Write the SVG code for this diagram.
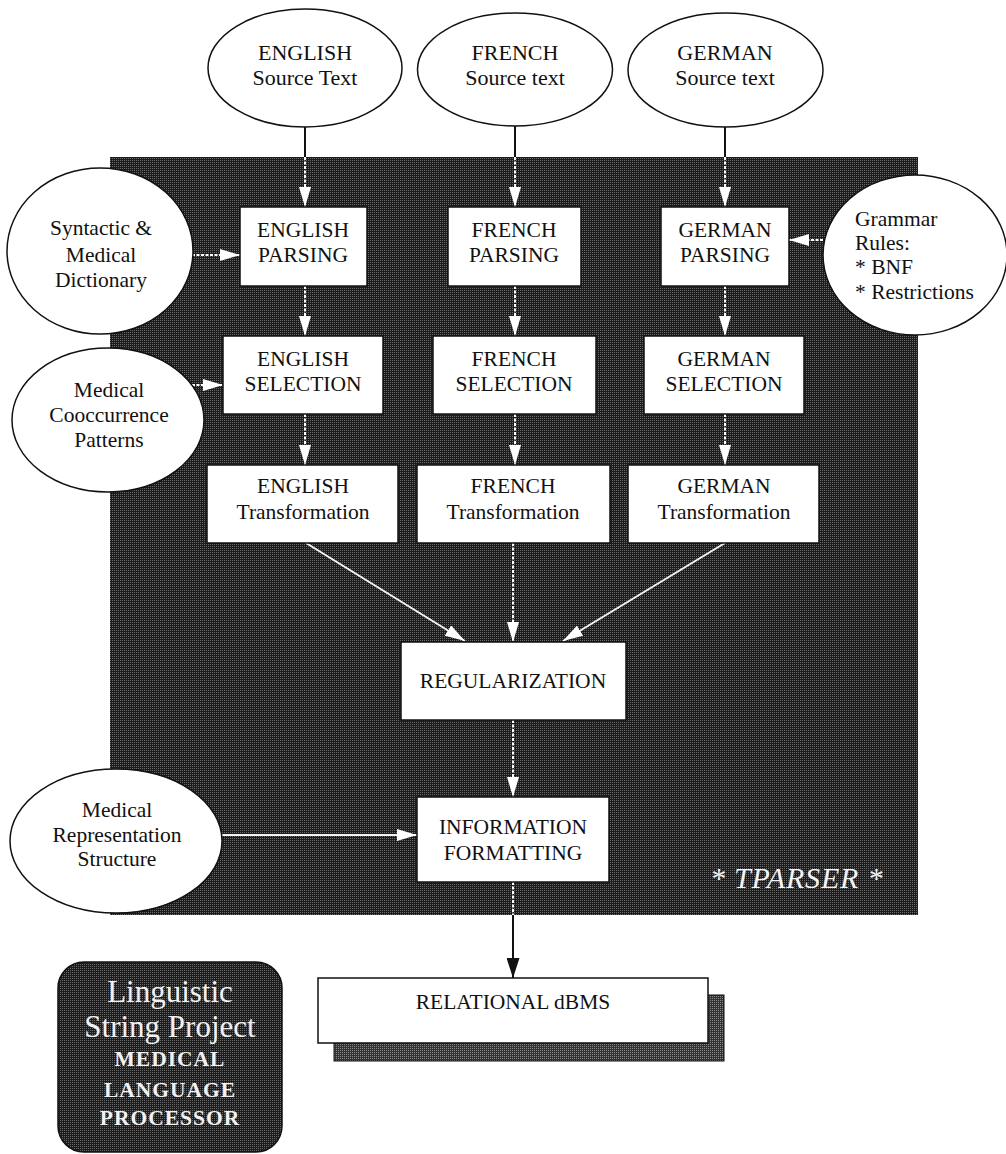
<svg xmlns="http://www.w3.org/2000/svg" width="1006" height="1154" viewBox="0 0 1006 1154">
<style>
text{font-family:"Liberation Serif","Times New Roman",serif;fill:#111;font-size:21.5px;text-anchor:middle}
.n{fill:#fff;stroke:#111;stroke-width:1.5}
.e{fill:#fff;stroke:#111;stroke-width:1.5}
.wd{stroke:#fff;stroke-width:2;stroke-dasharray:3 1.5;fill:none}
.ws{stroke:#f4f4f4;stroke-width:2;fill:none}
.bk{stroke:#111;stroke-width:2;fill:none}
.lsp{fill:#f2f2f2;font-size:31px}
.lspb{fill:#f2f2f2;font-size:21.5px;font-weight:bold;letter-spacing:1px}
.tp{fill:#f4f4f4;font-size:30px;font-style:italic;text-anchor:start;letter-spacing:0.8px}
.src{font-size:22px}
</style>
<defs>
<pattern id="dith" width="2" height="2" patternUnits="userSpaceOnUse">
<rect width="2" height="2" fill="#1c1c1c"/>
<rect x="0" y="0" width="1" height="1" fill="#6a6a6a"/>
</pattern>
<pattern id="dith2" width="2" height="2" patternUnits="userSpaceOnUse">
<rect width="2" height="2" fill="#333"/>
<rect x="0" y="0" width="1" height="1" fill="#8a8a8a"/>
</pattern>
<marker id="wa" viewBox="0 0 20 12" refX="20" refY="6" markerWidth="20" markerHeight="12" markerUnits="userSpaceOnUse" orient="auto">
<path d="M0,0 L20,6 L0,12 z" fill="#fff"/>
</marker>
<marker id="ba" viewBox="0 0 20 13" refX="20" refY="6.5" markerWidth="20" markerHeight="13" markerUnits="userSpaceOnUse" orient="auto">
<path d="M0,0 L20,6.5 L0,13 z" fill="#111"/>
</marker>
</defs>

<g id="tparser-panel">
<rect x="110" y="157" width="808" height="758" fill="url(#dith)"/>
<text class="tp" x="710" y="888">* TPARSER *</text>
</g>

<g id="connectors">
<line class="bk" x1="305" y1="127" x2="305" y2="157"/>
<line class="wd" x1="305" y1="157" x2="305" y2="207" marker-end="url(#wa)"/>
<line class="bk" x1="515" y1="126" x2="515" y2="157"/>
<line class="wd" x1="515" y1="157" x2="515" y2="207" marker-end="url(#wa)"/>
<line class="bk" x1="725" y1="127" x2="725" y2="157"/>
<line class="wd" x1="725" y1="157" x2="725" y2="207" marker-end="url(#wa)"/>
<line class="wd" x1="305" y1="286" x2="305" y2="336" marker-end="url(#wa)"/>
<line class="wd" x1="515" y1="286" x2="515" y2="336" marker-end="url(#wa)"/>
<line class="wd" x1="725" y1="286" x2="725" y2="336" marker-end="url(#wa)"/>
<line class="wd" x1="305" y1="414" x2="305" y2="465" marker-end="url(#wa)"/>
<line class="wd" x1="515" y1="414" x2="515" y2="465" marker-end="url(#wa)"/>
<line class="wd" x1="725" y1="414" x2="725" y2="465" marker-end="url(#wa)"/>
<line class="wd" x1="192" y1="255" x2="240" y2="255" marker-end="url(#wa)"/>
<line class="wd" x1="192" y1="385" x2="223" y2="385" marker-end="url(#wa)"/>
<line class="wd" x1="823" y1="240" x2="789" y2="240" marker-end="url(#wa)"/>
<line class="ws" x1="306" y1="543" x2="465" y2="641" marker-end="url(#wa)"/>
<line class="wd" x1="513" y1="543" x2="513" y2="642" marker-end="url(#wa)"/>
<line class="ws" x1="725" y1="543" x2="563" y2="641" marker-end="url(#wa)"/>
<line class="wd" x1="513" y1="720" x2="513" y2="797" marker-end="url(#wa)"/>
<line class="ws" x1="222" y1="835" x2="417" y2="835" marker-end="url(#wa)"/>
<line class="wd" x1="513" y1="882" x2="513" y2="915"/>
<line class="bk" x1="513" y1="915" x2="513" y2="978" marker-end="url(#ba)"/>
</g>

<g id="english-source">
<ellipse class="e" cx="305" cy="68" rx="97" ry="59"/>
<text class="src" x="305" y="60">ENGLISH</text>
<text class="src" x="305" y="85">Source Text</text>
</g>
<g id="french-source">
<ellipse class="e" cx="515" cy="69.5" rx="97.5" ry="56.5"/>
<text class="src" x="515" y="60">FRENCH</text>
<text class="src" x="515" y="85">Source text</text>
</g>
<g id="german-source">
<ellipse class="e" cx="725.5" cy="70" rx="97.5" ry="57"/>
<text class="src" x="725" y="60">GERMAN</text>
<text class="src" x="725" y="85">Source text</text>
</g>

<g id="dictionary">
<ellipse class="e" cx="100" cy="251" rx="93" ry="83"/>
<text x="101" y="235">Syntactic &amp;</text>
<text x="101" y="262">Medical</text>
<text x="101" y="287">Dictionary</text>
</g>
<g id="cooccurrence">
<ellipse class="e" cx="108" cy="420" rx="96" ry="72"/>
<text x="109" y="397">Medical</text>
<text x="109" y="422">Cooccurrence</text>
<text x="109" y="447">Patterns</text>
</g>
<g id="grammar-rules">
<ellipse class="e" cx="915" cy="255" rx="92" ry="80"/>
<text x="855" y="226" style="text-anchor:start">Grammar</text>
<text x="855" y="250" style="text-anchor:start">Rules:</text>
<text x="855" y="274" style="text-anchor:start">* BNF</text>
<text x="855" y="299" style="text-anchor:start">* Restrictions</text>
</g>
<g id="representation">
<ellipse class="e" cx="116" cy="841" rx="106" ry="72"/>
<text x="117" y="817">Medical</text>
<text x="117" y="842">Representation</text>
<text x="117" y="866">Structure</text>
</g>

<g id="english-parsing">
<rect class="n" x="240" y="207" width="127" height="79"/>
<text x="303" y="237">ENGLISH</text>
<text x="303" y="262">PARSING</text>
</g>
<g id="french-parsing">
<rect class="n" x="448" y="207" width="133" height="79"/>
<text x="514" y="237">FRENCH</text>
<text x="514" y="262">PARSING</text>
</g>
<g id="german-parsing">
<rect class="n" x="661" y="207" width="128" height="79"/>
<text x="725" y="237">GERMAN</text>
<text x="725" y="262">PARSING</text>
</g>

<g id="english-selection">
<rect class="n" x="223" y="336" width="160" height="78"/>
<text x="303" y="366">ENGLISH</text>
<text x="303" y="391">SELECTION</text>
</g>
<g id="french-selection">
<rect class="n" x="433" y="336" width="163" height="78"/>
<text x="514" y="366">FRENCH</text>
<text x="514" y="391">SELECTION</text>
</g>
<g id="german-selection">
<rect class="n" x="644" y="336" width="160" height="78"/>
<text x="724" y="366">GERMAN</text>
<text x="724" y="391">SELECTION</text>
</g>

<g id="english-transformation">
<rect class="n" x="207" y="465" width="191" height="78"/>
<text x="303" y="493">ENGLISH</text>
<text x="303" y="519">Transformation</text>
</g>
<g id="french-transformation">
<rect class="n" x="417" y="465" width="193" height="78"/>
<text x="513" y="493">FRENCH</text>
<text x="513" y="519">Transformation</text>
</g>
<g id="german-transformation">
<rect class="n" x="628" y="465" width="191" height="78"/>
<text x="724" y="493">GERMAN</text>
<text x="724" y="519">Transformation</text>
</g>

<g id="regularization">
<rect class="n" x="401" y="642" width="225" height="78"/>
<text x="513" y="688">REGULARIZATION</text>
</g>
<g id="information-formatting">
<rect class="n" x="417" y="797" width="192" height="85"/>
<text x="513" y="834">INFORMATION</text>
<text x="513" y="860">FORMATTING</text>
</g>

<g id="relational-dbms">
<rect x="334" y="995" width="390" height="66" fill="url(#dith2)" stroke="#111" stroke-width="1"/>
<rect class="n" x="318" y="978" width="390" height="65"/>
<text x="513" y="1009" font-size="20.5">RELATIONAL dBMS</text>
</g>

<g id="lsp-label">
<rect x="58" y="962" width="224" height="190" rx="26" ry="26" fill="url(#dith)" stroke="#111" stroke-width="1.5"/>
<text class="lsp" x="170" y="1002">Linguistic</text>
<text class="lsp" x="170" y="1037">String Project</text>
<text class="lspb" x="170" y="1066">MEDICAL</text>
<text class="lspb" x="170" y="1097">LANGUAGE</text>
<text class="lspb" x="170" y="1125">PROCESSOR</text>
</g>
</svg>
